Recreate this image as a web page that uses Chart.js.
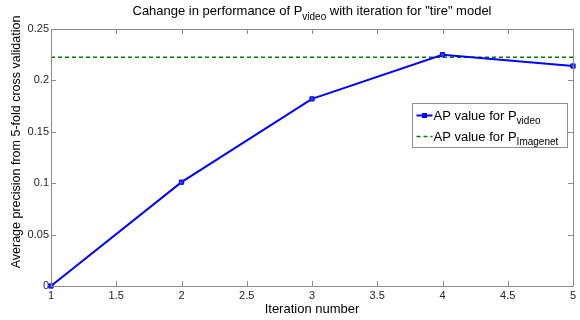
<!DOCTYPE html>
<html>
<head>
<meta charset="utf-8">
<script src="https://cdn.jsdelivr.net/npm/chart.js@4/dist/chart.umd.min.js"></script>
<style>
  html, body { margin: 0; padding: 0; background: #fff; }
  #wrap { width: 580px; height: 320px; }
</style>
</head>
<body>
<div id="wrap"><canvas id="chart" width="580" height="320"></canvas></div>
<script>
// iteration numbers and AP values
const iterations = [1, 2, 3, 4, 5];
const apVideo = [0.0, 0.101, 0.182, 0.225, 0.214];
const apImagenet = 0.2225;

const xTicks = [1, 1.5, 2, 2.5, 3, 3.5, 4, 4.5, 5];
const yTicks = [0, 0.05, 0.1, 0.15, 0.2, 0.25];

const titleParts = ['Cahange in performance of P', 'video', ' with iteration for "tire" model'];
const legendItems = [
  { text: 'AP value for P', sub: 'video', color: '#0000ff', dash: [] , marker: true },
  { text: 'AP value for P', sub: 'Imagenet', color: '#008000', dash: [4, 3], marker: false }
];
const xLabel = 'Iteration number';
const yLabel = 'Average precision from 5-fold cross validation';

const FONT = '"Liberation Sans", Arial, Helvetica, sans-serif';
const AXIS = '#8c8c8c';
const TEXT = '#262626';

// writes main text followed by a subscript, returns end x
function textWithSub(ctx, x, y, main, sub, size) {
  ctx.font = size + 'px ' + FONT;
  ctx.fillText(main, x, y);
  let w = ctx.measureText(main).width;
  ctx.font = Math.round(size * 0.75) + 'px ' + FONT;
  ctx.fillText(sub, x + w, y + size * 0.35);
  return x + w + ctx.measureText(sub).width;
}

const decorations = {
  id: 'decorations',
  afterDraw(chart) {
    const ctx = chart.ctx;
    const a = chart.chartArea;
    const xs = chart.scales.x, ys = chart.scales.y;
    ctx.save();

    // box and inward ticks
    ctx.strokeStyle = AXIS;
    ctx.lineWidth = 1;
    ctx.beginPath();
    ctx.rect(Math.round(a.left) + 0.5, Math.round(a.top) + 0.5, Math.round(a.right - a.left), Math.round(a.bottom - a.top));
    xTicks.forEach(v => {
      const px = Math.round(xs.getPixelForValue(v)) + 0.5;
      ctx.moveTo(px, a.bottom); ctx.lineTo(px, a.bottom - 5);
      ctx.moveTo(px, a.top); ctx.lineTo(px, a.top + 5);
    });
    yTicks.forEach(v => {
      const py = Math.round(ys.getPixelForValue(v)) + 0.5;
      ctx.moveTo(a.left, py); ctx.lineTo(a.left + 5, py);
      ctx.moveTo(a.right, py); ctx.lineTo(a.right - 5, py);
    });
    ctx.stroke();

    // title
    const TS = 13;
    ctx.fillStyle = '#000';
    ctx.textBaseline = 'alphabetic';
    ctx.textAlign = 'left';
    ctx.font = TS + 'px ' + FONT;
    let w = ctx.measureText(titleParts[0]).width + ctx.measureText(titleParts[2]).width;
    ctx.font = Math.round(TS * 0.75) + 'px ' + FONT;
    w += ctx.measureText(titleParts[1]).width;
    let tx = (a.left + a.right) / 2 - w / 2;
    tx = textWithSub(ctx, tx, 15, titleParts[0], titleParts[1], TS);
    ctx.font = TS + 'px ' + FONT;
    ctx.fillText(titleParts[2], tx, 15);

    // axis titles
    ctx.fillStyle = '#000';
    ctx.textAlign = 'center';
    ctx.font = '13px ' + FONT;
    ctx.fillText(xLabel, (a.left + a.right) / 2, 313);
    ctx.save();
    ctx.font = '12.5px ' + FONT;
    ctx.translate(20, 142);
    ctx.rotate(-Math.PI / 2);
    ctx.fillText(yLabel, 0, 0);
    ctx.restore();

    // legend
    const lx = 412.5, ly = 103.5, lw = 155, lh = 44;
    ctx.fillStyle = '#fff';
    ctx.fillRect(lx, ly, lw, lh);
    ctx.strokeStyle = AXIS;
    ctx.strokeRect(lx, ly, lw, lh);
    ctx.textAlign = 'left';
    legendItems.forEach((it, i) => {
      const cy = ly + 12 + i * 21;
      ctx.strokeStyle = it.color;
      ctx.lineWidth = it.marker ? 2 : 1.5;
      ctx.setLineDash(it.dash);
      ctx.beginPath();
      ctx.moveTo(lx + 4, cy); ctx.lineTo(lx + 20, cy);
      ctx.stroke();
      ctx.setLineDash([]);
      if (it.marker) {
        ctx.fillStyle = it.color;
        ctx.fillRect(lx + 9.5, cy - 2.5, 5, 5);
      }
      ctx.fillStyle = '#000';
      textWithSub(ctx, lx + 21, cy + 4, it.text, it.sub, 13);
    });
    ctx.restore();
  }
};

new Chart(document.getElementById('chart'), {
  type: 'line',
  data: {
    datasets: [
      {
        label: 'AP value for P video',
        data: iterations.map((x, i) => ({ x, y: apVideo[i] })),
        borderColor: '#0000ff',
        backgroundColor: '#3333ff',
        borderWidth: 2,
        pointStyle: 'rect',
        pointRadius: 3,
        pointBorderWidth: 1,
        pointBorderColor: '#0000ff',
        tension: 0
      },
      {
        label: 'AP value for P Imagenet',
        data: [{ x: iterations[0], y: apImagenet }, { x: iterations[iterations.length - 1], y: apImagenet }],
        borderColor: '#008000',
        borderWidth: 1.5,
        borderDash: [4, 3],
        pointRadius: 0
      }
    ]
  },
  options: {
    responsive: false,
    animation: false,
    clip: false,
    layout: { padding: { top: 29, right: 7, left: 0, bottom: 0 } },
    plugins: { legend: { display: false }, title: { display: false }, tooltip: { enabled: false } },
    scales: {
      x: {
        type: 'linear', min: 1, max: 5,
        afterFit: s => { s.height = 34; },
        afterBuildTicks: s => { s.ticks = xTicks.map(v => ({ value: v })); },
        grid: { display: false, drawTicks: false },
        border: { display: false },
        ticks: { padding: 3, color: TEXT, font: { family: FONT, size: 11 }, maxRotation: 0, callback: v => String(v) }
      },
      y: {
        min: 0, max: 0.25,
        afterFit: s => { s.width = 51; },
        afterBuildTicks: s => { s.ticks = yTicks.map(v => ({ value: v })); },
        grid: { display: false, drawTicks: false },
        border: { display: false },
        ticks: { padding: 2, color: TEXT, font: { family: FONT, size: 11 }, callback: v => String(+v.toFixed(2)) }
      }
    }
  },
  plugins: [decorations]
});
</script>
</body>
</html>
